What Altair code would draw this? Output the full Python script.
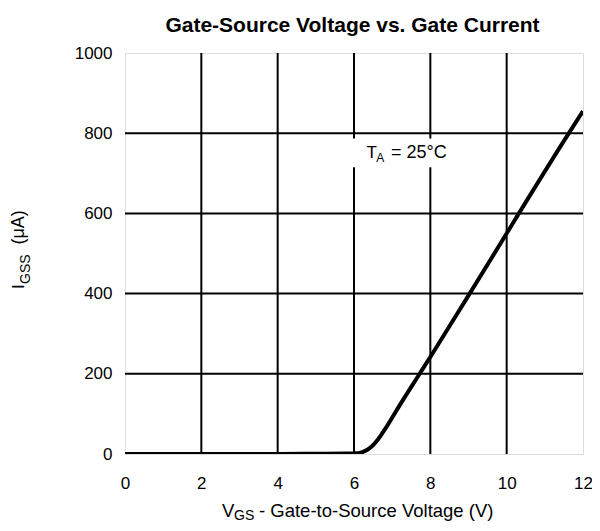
import altair as alt
import pandas as pd

# ---- data ----
vgs = [0, 1, 2, 3, 4, 5, 5.8, 6.0, 6.1, 6.2, 6.3, 6.4, 6.5, 6.6, 6.7, 6.8, 7.2, 7.72, 8.0,
       9.03, 11.63, 12.0]
igss = [0, 0, 0, 0, 0, 0.5, 1, 1.5, 2, 4, 8, 14, 22, 33, 46, 60, 122, 200, 242,
        400, 800, 855]

x_ticks = [0, 2, 4, 6, 8, 10, 12]
y_ticks = [0, 200, 400, 600, 800, 1000]
grid_x = [2, 4, 6, 8, 10]
grid_y = [200, 400, 600, 800]

# white background behind the temperature note (data units)
note_box_x = [5.85]
note_box_x2 = [8.7]
note_box_y = [715]
note_box_y2 = [787]

title_text = "Gate-Source Voltage vs. Gate Current"
note_parts = ["T", "A", "= 25°C"]
xtitle_parts = ["V", "GS", "- Gate-to-Source Voltage (V)"]
ytitle_parts = ["I", "GSS", "(μA)"]

FONT = "Liberation Sans"

xs = alt.Scale(domain=[0, 12], nice=False, zero=False)
ys = alt.Scale(domain=[0, 1000], nice=False)

AX_X = alt.Axis(values=x_ticks, domain=False, ticks=False, grid=False, title=None,
                labelPadding=21, labelFontSize=17, labelColor="black",
                labelFont=FONT, labelFlush=False, format="d")
AX_Y = alt.Axis(values=y_ticks, domain=False, ticks=False, grid=False, title=None,
                labelPadding=13, labelFontSize=17, labelColor="black",
                labelFont=FONT, labelFlush=False, format="d")


def X(field):
    return alt.X(field, scale=xs, axis=AX_X, title=None)


def Y(field):
    return alt.Y(field, scale=ys, axis=AX_Y, title=None)


curve_df = pd.DataFrame({"vgs": vgs, "igss": igss})

vgrid = alt.Chart(pd.DataFrame({"vgs": grid_x})).mark_rule(
    color="black", strokeWidth=2
).encode(x=X("vgs:Q"))

hgrid = alt.Chart(pd.DataFrame({"igss": grid_y})).mark_rule(
    color="black", strokeWidth=2
).encode(y=Y("igss:Q"))

box = alt.Chart(pd.DataFrame({"vgs": note_box_x, "b": note_box_x2,
                              "igss": note_box_y, "d": note_box_y2})).mark_rect(
    fill="white"
).encode(x=X("vgs:Q"), x2="b:Q", y=Y("igss:Q"), y2="d:Q")

curve = alt.Chart(curve_df).mark_line(
    color="black", strokeWidth=4, interpolate="monotone", clip=True
).encode(x=X("vgs:Q"), y=Y("igss:Q"))


def data_text(txt, x, y, size):
    return alt.Chart(pd.DataFrame({"vgs": [x], "igss": [y], "t": [txt]})).mark_text(
        align="left", baseline="alphabetic", fontSize=size, font=FONT, color="black"
    ).encode(x=X("vgs:Q"), y=Y("igss:Q"), text="t:N")


def px_text(txt, x, y, size, angle=0, align="left", weight="normal"):
    return alt.Chart(pd.DataFrame({"t": [txt]})).mark_text(
        align=align, baseline="alphabetic", fontSize=size, font=FONT,
        color="black", angle=angle, fontWeight=weight
    ).encode(x=alt.value(x), y=alt.value(y), text="t:N")


note = [
    data_text(note_parts[0], 6.33, 737, 17),
    data_text(note_parts[1], 6.58, 727, 12),
    data_text(note_parts[2], 6.97, 737, 18),
]

xtitle = [
    px_text(xtitle_parts[0], 97, 463.5, 18.5),
    px_text(xtitle_parts[1], 109, 466.5, 14),
    px_text(xtitle_parts[2], 134, 463.5, 18.5),
]

ytitle = [
    px_text(ytitle_parts[0], -101, 236, 17, 270),
    px_text(ytitle_parts[1], -95.5, 231, 14, 270),
    px_text(ytitle_parts[2], -101, 191.5, 18, 270),
]

title = px_text(title_text, 227.5, -21.3, 21, align="center", weight="bold")

chart = alt.layer(vgrid, hgrid, box, curve, *note, *xtitle, *ytitle, title).properties(
    width=458,
    height=401,
    autosize=alt.AutoSizeParams(type="none"),
    padding={"left": 117, "top": 45, "right": 9, "bottom": 69},
).configure_view(stroke="#808080", strokeWidth=1).configure(background="white")

chart.save("out.html", embed_options={"renderer": "svg", "actions": False})
